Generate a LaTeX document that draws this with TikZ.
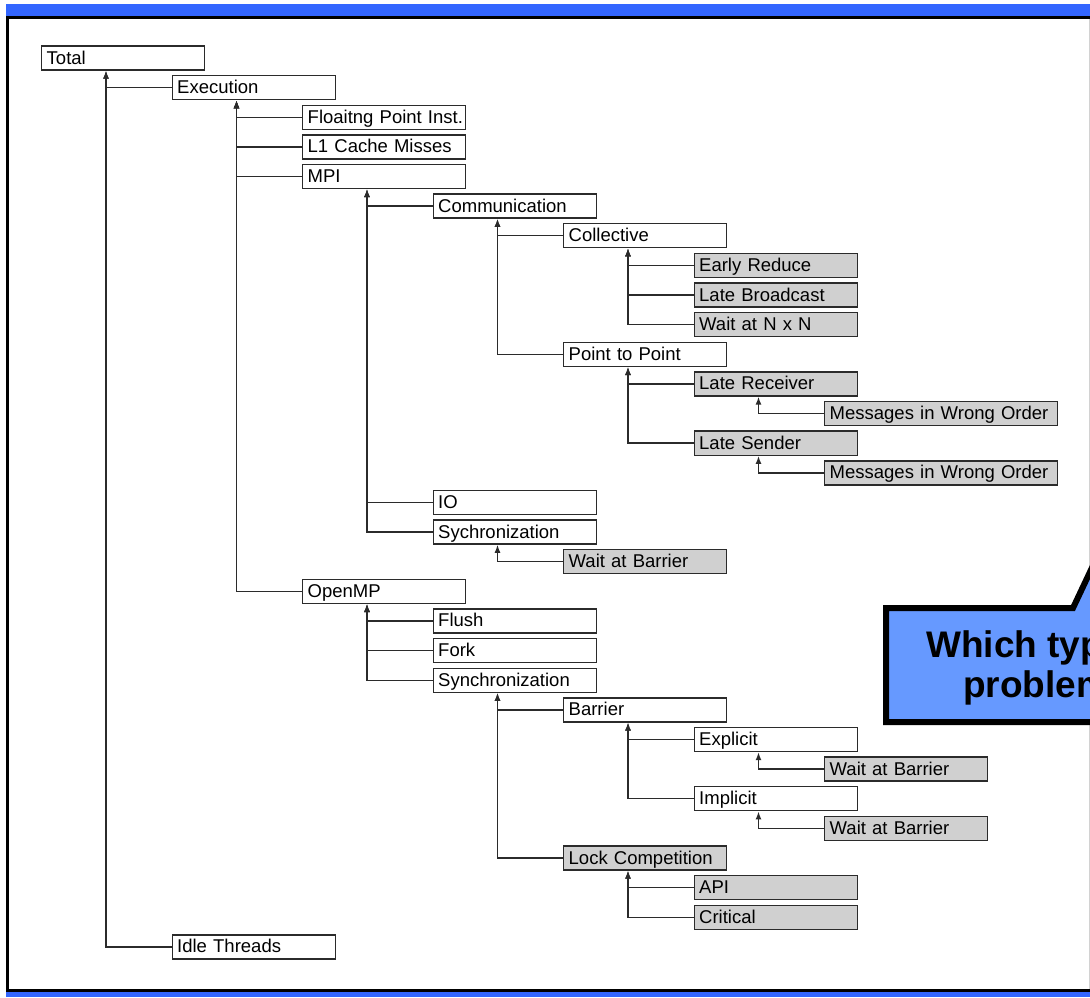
\documentclass[tikz,border=0pt]{standalone}
\usepackage{fontspec}
\setmainfont{Liberation Sans}
\usepackage{tikz}
\usetikzlibrary{arrows.meta,calc}
\definecolor{bandblue}{HTML}{3366FF}
\definecolor{callblue}{HTML}{6699FF}
\definecolor{leafgray}{HTML}{D0D0D0}
\definecolor{edgegray}{HTML}{2B2B2B}
\tikzset{
  metric/.style={draw=edgegray,line width=1.4pt,anchor=west,minimum height=24pt,
    inner xsep=5pt,inner ysep=0pt,text height=15pt,text depth=3pt,
    text width=153pt,align=left,font=\fontsize{18.5}{21}\selectfont},
  wmetric/.style={metric,fill=white},
  gmetric/.style={metric,fill=leafgray},
  gwide/.style={gmetric,text width=223pt},
  conn/.style={line width=1.4pt,draw=edgegray,-{Latex[length=8pt,width=6pt]}}
}

\begin{document}
\begin{tikzpicture}[x=1pt,y=-1pt,>=Latex]
\useasboundingbox (0,0) rectangle (1090,997);
\clip (0,0) rectangle (1090,997);
\fill[white] (0,0) rectangle (1090,997);
\fill[bandblue] (6,4) rectangle (1090,16);
\fill[bandblue] (6,992) rectangle (1090,997);
\draw[line width=3pt] (6,17.5) -- (1090,17.5);
\draw[line width=3pt] (7.5,16) -- (7.5,990.5) -- (1090,990.5);
\draw[gray!35] (1089.5,19) -- (1089.5,989);
\foreach \nm/\lv/\rw/\tx/\st in {
    total/0/0/Total/wmetric, exec/1/1/Execution/wmetric,
    flop/2/2/Floaitng Point Inst./wmetric, lone/2/3/L1 Cache Misses/wmetric,
    mpi/2/4/MPI/wmetric, comm/3/5/Communication/wmetric,
    coll/4/6/Collective/wmetric, early/5/7/Early Reduce/gmetric,
    lbcast/5/8/Late Broadcast/gmetric, wnxn/5/9/Wait at N x N/gmetric,
    ptp/4/10/Point to Point/wmetric, lrecv/5/11/Late Receiver/gmetric,
    msgr/6/12/Messages in Wrong Order/gwide, lsend/5/13/Late Sender/gmetric,
    msgs/6/14/Messages in Wrong Order/gwide, io/3/15/IO/wmetric,
    msync/3/16/Sychronization/wmetric, mbar/4/17/Wait at Barrier/gmetric,
    omp/2/18/OpenMP/wmetric, flush/3/19/Flush/wmetric,
    fork/3/20/Fork/wmetric, osync/3/21/Synchronization/wmetric,
    barr/4/22/Barrier/wmetric, expl/5/23/Explicit/wmetric,
    ebar/6/24/Wait at Barrier/gmetric, impl/5/25/Implicit/wmetric,
    ibar/6/26/Wait at Barrier/gmetric, lock/4/27/Lock Competition/gmetric,
    api/5/28/API/gmetric, crit/5/29/Critical/gmetric,
    idle/1/30/Idle Threads/wmetric}{
    \node[\st] (\nm) at ({41+\lv*130.5},{58+\rw*29.63}) {\mbox{\tx}};
}
\foreach \c/\p in {exec/total,flop/exec,lone/exec,mpi/exec,comm/mpi,coll/comm,
    early/coll,lbcast/coll,wnxn/coll,ptp/comm,lrecv/ptp,msgr/lrecv,lsend/ptp,
    msgs/lsend,io/mpi,msync/mpi,mbar/msync,omp/exec,flush/omp,fork/omp,
    osync/omp,barr/osync,expl/barr,ebar/expl,impl/barr,ibar/impl,lock/osync,
    api/lock,crit/lock,idle/total}{
    \draw[conn] (\c.west) -| ($(\p.south west)+(65,0)$);
}
\draw[line width=6pt,fill=callblue,line join=miter] (886,722) -- (886,608) -- (1073,608)
    -- (1106,538) -- (1140,608) -- (1150,608) -- (1150,722) -- cycle;
\node[anchor=base west,inner sep=0pt,font=\bfseries\fontsize{37}{40}\selectfont] (ask) at (926,657) {Which typ};
\node[anchor=base west,inner sep=0pt,font=\bfseries\fontsize{37}{40}\selectfont] (askb) at (963,697) {problem};
\end{tikzpicture}
\end{document}
